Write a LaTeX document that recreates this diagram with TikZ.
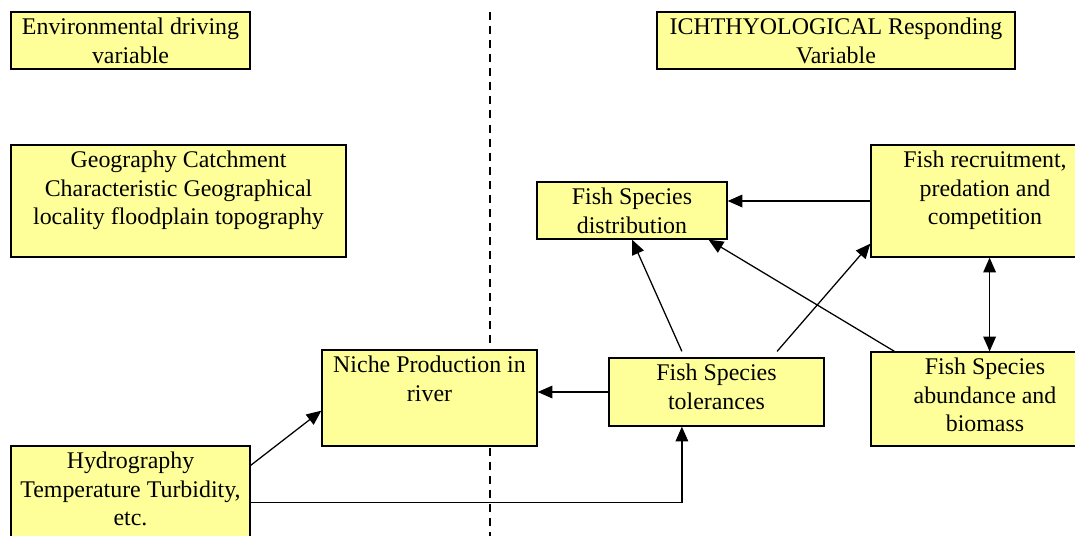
\documentclass[tikz,border=0pt]{standalone}
\usepackage{fontspec}
\setmainfont{Liberation Serif}
\usetikzlibrary{positioning,calc}
\usetikzlibrary{arrows.meta}
\definecolor{boxyellow}{RGB}{255,255,153}
\tikzset{
	box/.style = {draw, fill = boxyellow, line width = 0.9pt, inner sep = 0pt},
	txt/.style = {align = center, inner xsep = 2pt, inner ysep = 4.5pt, font = \fontsize{17}{20}\selectfont},
}

\begin{document}
\begin{tikzpicture}[x = 0.025cm, y = -0.025cm, >={Triangle[length=10.5pt, width=9pt]}, line width = 0.9pt]
\useasboundingbox (0, 0) rectangle (1075, 535);
\clip (0, 0) rectangle (1075, 535);

% divider
\draw [dashed, line width = 0.8pt, dash pattern = on 5.7pt off 4.3pt] (490, 12)  --  (490, 540);

% left side
\node [box, minimum width = 5.975cm, minimum height = 1.425cm] (env) at (130.5, 40.5) {};
\node [txt, below = 0pt of env.north] (envtxt) {Environmental driving\\variable};

\node [box, minimum width = 8.375cm, minimum height = 2.8cm] (geo) at (178.5, 201) {};
\node [txt, below = 0pt of geo.north] (geotxt) {Geography Catchment\\Characteristic Geographical\\locality floodplain topography};

\node [box, minimum width = 5.975cm, minimum height = 2.6cm] (hyd) at (130.5, 498) {};
\node [txt, below = 0pt of hyd.north] (hydtxt) {Hydrography\\Temperature Turbidity,\\etc.};

\node [box, minimum width = 5.375cm, minimum height = 2.4cm] (niche) at (429.5, 398) {};
\node [txt, below = 0pt of niche.north] (nichetxt) {Niche Production in\\river};

% right side
\node [box, minimum width = 8.95cm, minimum height = 1.425cm] (ich) at (836, 40.5) {};
\node [txt, below = 0pt of ich.north] (ichtxt) {ICHTHYOLOGICAL Responding\\Variable};

\node [box, minimum width = 4.75cm, minimum height = 1.425cm] (dist) at (632, 210.5) {};
\node [txt, below = 0pt of dist.north] (disttxt) {Fish Species\\distribution};

\node [box, minimum width = 5.7cm, minimum height = 2.8cm] (recr) at (985, 201) {};
\node [txt, below = 0pt of recr.north] (recrtxt) {Fish recruitment,\\predation and\\competition};

\node [box, minimum width = 5.375cm, minimum height = 1.7cm] (tol) at (716.5, 392) {};
\node [txt, below = 0pt of tol.north] (toltxt) {Fish Species\\tolerances};

\node [box, minimum width = 5.7cm, minimum height = 2.35cm] (abund) at (985, 399) {};
\node [txt, below = 0pt of abund.north] (abundtxt) {Fish Species\\abundance and\\biomass};

% arrows
\draw [->] (recr.west)  --  (recr.west -| dist.east);
\draw [->] ($(tol.north west)!0.34!(tol.north east) + (0, -6)$)  --  (dist.south);
\draw [->] ($(tol.north west)!0.78!(tol.north east) + (0, -6)$)  --  ($(recr.south west) + (0, -14)$);
\draw [->] ($(abund.north west)!0.105!(abund.north east)$)  --  ($(dist.south west)!0.9!(dist.south east)$);
\draw [<->] ($(recr.south west)!0.52!(recr.south east)$)  --  ($(abund.north west)!0.52!(abund.north east)$);
\draw [->] (tol.west)  --  (tol.west -| niche.east);
\draw [->] ($(hyd.north east) + (0, 20)$)  --  ($(niche.south west) + (0, -36)$);
\draw [->] ($(hyd.north east) + (0, 57)$)  -|  ($(tol.south west)!0.34!(tol.south east)$);

\end{tikzpicture}
\end{document}
